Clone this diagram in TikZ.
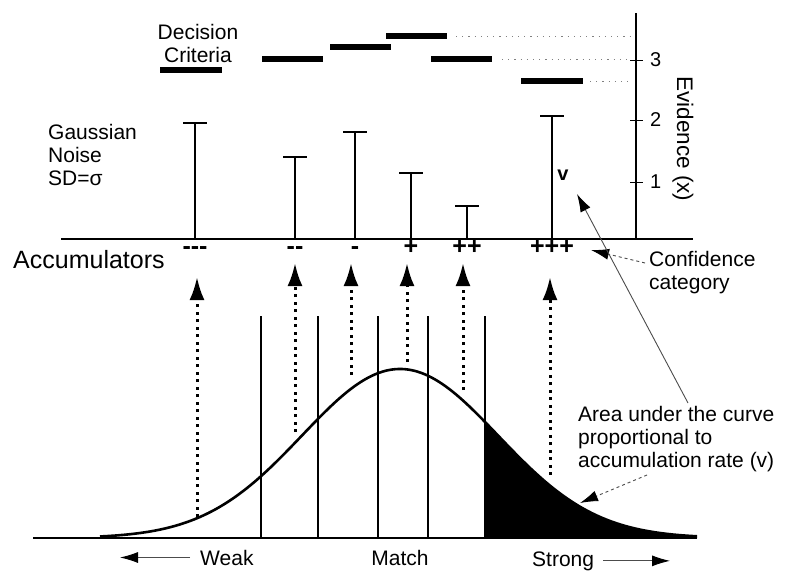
\documentclass[tikz,border=0pt]{standalone}
\usepackage{fontspec}
\setmainfont{Liberation Sans}
\usetikzlibrary{arrows.meta}
\tikzset{
  bar/.style={line width=2.6pt},
  crit/.style={line width=6.5pt},
  guide/.style={gray, line width=0.9pt, dash pattern=on 1.2pt off 5pt},
  feed/.style={line width=3pt, dash pattern=on 3pt off 4.5pt, -{Latex[length=23pt,width=15pt]}},
  pointer/.style={gray!60!black, line width=0.9pt, -{Latex[length=18pt,width=11pt,black]}},
}
\begin{document}
\begin{tikzpicture}[x=1pt, y=-1pt, every node/.style={font=\fontsize{21}{23}\selectfont, inner sep=0pt}]
  \useasboundingbox (0,0) rectangle (800,584);
  % decision criteria
  \foreach \a/\b/\y in {160/222/70, 262/323/59, 330/391/47, 386/447/36, 431/492/59, 521/583/81}
    \draw[crit] (\a,\y) -- (\b,\y);
  \foreach \a/\y in {456/36, 502/59, 590/81}
    \draw[guide] (\a,\y) -- (630,\y);
  \node[anchor=north, align=center] (crit) at (198,24) {Decision\\Criteria};
  % evidence axis
  \draw[bar] (61,239) -- (693,239);
  \draw[bar] (636,13) -- (636,239);
  \foreach \v/\y in {1/182, 2/120, 3/60} {
    \draw[line width=0.9pt] (630,\y) -- (643,\y);
    \node[anchor=west, font=\fontsize{20}{20}\selectfont] (tick\v) at (650,\y) {\v};
  }
  \node[rotate=-90, font=\fontsize{22.5}{22.5}\selectfont] (evid) at (683,139) {Evidence (x)};
  % accumulators
  \foreach \x/\top/\sign/\n in {195/123/{-{}-{}-}/1, 295/157/{-{}-}/2, 355/132/{-}/3, 411/173/{+}/4, 467/206/{++}/5, 552/116/{+++}/6} {
    \coordinate (acc\n) at (\x,239);
    \coordinate (top\n) at (\x,\top);
    \draw[bar] (acc\n) -- (top\n);
    \draw[bar] ([xshift=-12pt]top\n) -- ([xshift=12pt]top\n);
    \node[anchor=base, font=\bfseries\fontsize{25}{25}\selectfont] (sign\n) at (\x,254) {\sign};
  }
  \node[font=\bfseries\fontsize{20}{20}\selectfont] (rate) at (563,175) {v};
  \node[anchor=north west, align=left] (noise) at (48,124) {Gaussian\\Noise\\SD=σ};
  \node[anchor=base west, font=\fontsize{25}{25}\selectfont] (accum) at (13,268) {Accumulators};
  \node[anchor=north west, align=left] (conf) at (649,251) {Confidence\\category};
  % match distribution
  \fill plot[domain=485:697, samples=60] (\x, {538-169*exp(-0.5*((\x-400)/98)^2)}) -- (697,538) -- (485,538) -- cycle;
  \draw[bar] plot[domain=100:697, samples=120, smooth] (\x, {538-169*exp(-0.5*((\x-400)/98)^2)});
  \draw[bar] (33,538) -- (697,538);
  \foreach \x in {261,318,378,428,485}
    \draw[line width=2.2pt] (\x,316) -- (\x,538);
  \foreach \x/\a/\b [count=\i] in {197/517/277, 295/432/263, 351/375/263, 407/362/263, 463/390/263, 550/475/277} {
    \coordinate (src\i) at (\x,\a);
    \coordinate (dst\i) at (\x,\b);
    \draw[feed] (src\i) -- (dst\i);
  }
  \node[anchor=north west, align=left] (area) at (578,406) {Area under the curve\\proportional to\\accumulation rate (v)};
  \node[anchor=base west] (weak) at (200,565) {Weak};
  \node[anchor=base] (match) at (400,565) {Match};
  \node[anchor=base west] (strong) at (532,566) {Strong};
  % pointers
  \coordinate (confend) at (591,250);
  \coordinate (vtip) at (577,194);
  \coordinate (fillend) at (580,503);
  \coordinate (weakend) at (120,557);
  \coordinate (strongend) at (670,559);
  \draw[pointer, dashed] (conf.north west) ++(-4,12) -- (confend);
  \draw[pointer] (area.north west) ++(110,-3) -- (vtip);
  \draw[pointer, dashed] (area.north west) ++(69,69) -- (fillend);
  \draw[pointer] ([xshift=-10pt]weak.west) -- (weakend |- weak.west);
  \draw[pointer] ([xshift=9pt]strong.east) -- (strongend |- strong.east);
\end{tikzpicture}
\end{document}
